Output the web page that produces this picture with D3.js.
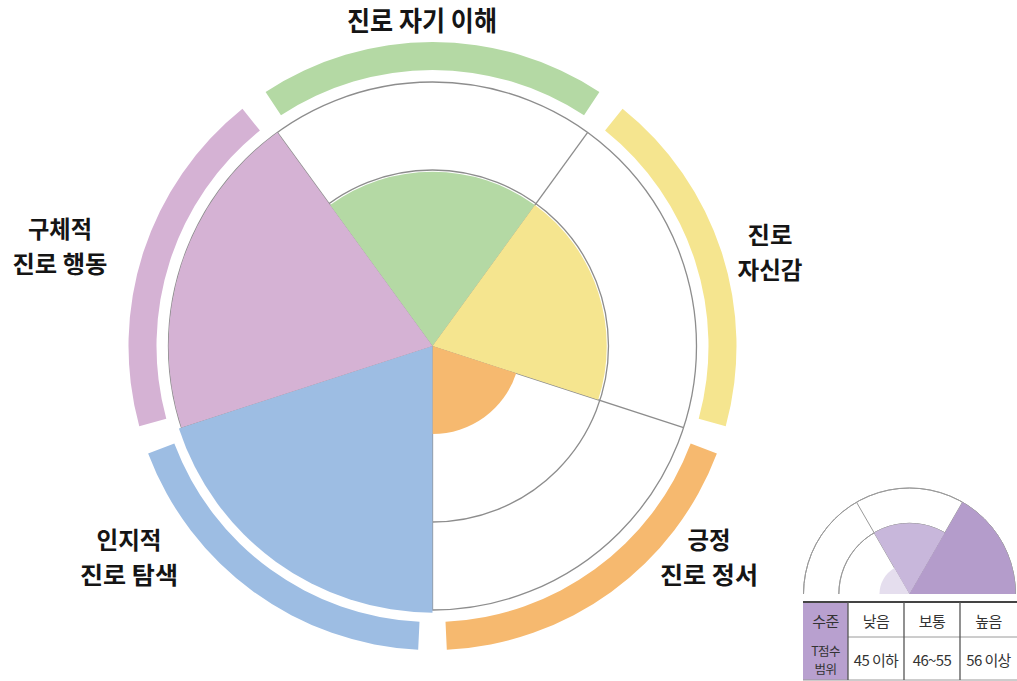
<!DOCTYPE html>
<html>
<head>
<meta charset="utf-8">
<script src="https://cdn.jsdelivr.net/npm/d3@7"></script>
<style>
  body { margin: 0; background: #fff; }
  svg { display: block; }
  text { font-family: "Noto Sans CJK KR", "Noto Sans", sans-serif; }
</style>
</head>
<body>
<svg id="chart"></svg>
<script>
// five areas, clockwise from the top
const categories = ["진로 자기 이해", "진로 자신감", "긍정 진로 정서", "인지적 진로 탐색", "구체적 진로 행동"];
const labelLines = [["진로 자기 이해"], ["진로", "자신감"], ["긍정", "진로 정서"], ["인지적", "진로 탐색"], ["구체적", "진로 행동"]];
const scores = [44.8, 44.8, 35, 55.3, 55.0];   // T-scores
const colors = ["#b4d9a4", "#f5e58f", "#f6b96f", "#9dbde3", "#d5b2d4"];
const guideScores = [45, 55];

// legend
const legendLevels = ["낮음", "보통", "높음"];
const legendRanges = ["45 이하", "46~55", "56 이상"];
const legendScores = [33.5, 45, 55];
const legendColors = ["#e5deee", "#c8b7db", "#b49ccb"];

const width = 1017, height = 681;
const cx = 432.5, cy = 346;
const rad = d => d * Math.PI / 180;

const svg = d3.select("#chart").attr("width", width).attr("height", height);

const r = d3.scaleLinear().domain([25, 55]).range([0, 264]);
const step = 360 / categories.length;
const angle = d3.scaleLinear().domain([0, categories.length]).range([-step / 2, 360 - step / 2]);

const g = svg.append("g").attr("transform", `translate(${cx},${cy})`);

// grid first, sectors cover it
g.selectAll("circle.guide")
  .data(guideScores)
  .join("circle")
  .attr("class", "guide")
  .attr("r", d => r(d))
  .attr("fill", "none")
  .attr("stroke", "#8d8d8d")
  .attr("stroke-width", 1.3);

g.selectAll("line.spoke")
  .data(categories)
  .join("line")
  .attr("class", "spoke")
  .attr("x1", 0).attr("y1", 0)
  .attr("x2", (d, i) => r(55) * Math.sin(rad(angle(i))))
  .attr("y2", (d, i) => -r(55) * Math.cos(rad(angle(i))))
  .attr("stroke", "#8d8d8d")
  .attr("stroke-width", 1.3);

const arc = d3.arc();

g.selectAll("path.sector")
  .data(scores)
  .join("path")
  .attr("class", "sector")
  .attr("d", (d, i) => arc({
    innerRadius: 0,
    outerRadius: r(d),
    startAngle: rad(angle(i)),
    endAngle: rad(angle(i + 1))
  }))
  .attr("fill", (d, i) => colors[i]);

// coloured bands round the outside
const gap = 2.7;
g.selectAll("path.band")
  .data(categories)
  .join("path")
  .attr("class", "band")
  .attr("d", (d, i) => arc({
    innerRadius: 276,
    outerRadius: 304,
    startAngle: rad(angle(i) + gap),
    endAngle: rad(angle(i + 1) - gap)
  }))
  .attr("fill", (d, i) => colors[i]);

// labels, placed by hand like the original
const labelPos = [
  { x: 422, y: [31], w: [150] },
  { x: 770, y: [244, 279], w: [45, 65] },
  { x: 709, y: [549, 584], w: [43, 98] },
  { x: 129, y: [549, 584], w: [65, 98] },
  { x: 60, y: [238, 273], w: [64, 95] }
];

labelLines.forEach((lines, i) => {
  const p = labelPos[i];
  const t = svg.append("text")
    .style("font-size", lines.length > 1 ? "24px" : "27px")
    .style("font-weight", 700)
    .attr("fill", "#151515");
  lines.forEach((line, j) => {
    t.append("tspan")
      .attr("x", p.x - p.w[j] / 2)
      .attr("y", p.y[j])
      .attr("textLength", p.w[j])
      .attr("lengthAdjust", "spacingAndGlyphs")
      .text(line);
  });
});

// ---- legend ----
const lx = 909.5, ly = 594;
const lr = d3.scaleLinear().domain([25, 55]).range([0, 106]);
const lAngle = d3.scaleLinear().domain([0, legendLevels.length]).range([-90, 90]);
const lg = svg.append("g").attr("transform", `translate(${lx},${ly})`);

lg.selectAll("path.guide")
  .data(guideScores)
  .join("path")
  .attr("class", "guide")
  .attr("d", d => arc({ innerRadius: lr(d), outerRadius: lr(d), startAngle: rad(-90), endAngle: rad(90) }))
  .attr("fill", "none")
  .attr("stroke", "#9a9a9a")
  .attr("stroke-width", 1);

lg.selectAll("line.spoke")
  .data(d3.range(1, legendLevels.length))
  .join("line")
  .attr("class", "spoke")
  .attr("x1", 0).attr("y1", 0)
  .attr("x2", d => lr(55) * Math.sin(rad(lAngle(d))))
  .attr("y2", d => -lr(55) * Math.cos(rad(lAngle(d))))
  .attr("stroke", "#9a9a9a")
  .attr("stroke-width", 1);

lg.selectAll("path.sector")
  .data(legendScores)
  .join("path")
  .attr("class", "sector")
  .attr("d", (d, i) => arc({
    innerRadius: 0,
    outerRadius: lr(d),
    startAngle: rad(lAngle(i)),
    endAngle: rad(lAngle(i + 1))
  }))
  .attr("fill", (d, i) => legendColors[i]);

// table under the legend
const tRight = 1017;
const colX = [803, 848, 904, 960, 1017];
const rowY = [602, 637, 680];

svg.append("rect")
  .attr("x", colX[0]).attr("y", rowY[0])
  .attr("width", colX[1] - colX[0]).attr("height", rowY[2] - rowY[0])
  .attr("fill", "#b8a0cf");

svg.append("line")
  .attr("x1", colX[1]).attr("x2", tRight)
  .attr("y1", rowY[1]).attr("y2", rowY[1])
  .attr("stroke", "#9a9a9a").attr("stroke-width", 1);

svg.append("line")
  .attr("x1", colX[0]).attr("x2", tRight)
  .attr("y1", rowY[0]).attr("y2", rowY[0])
  .attr("stroke", "#444").attr("stroke-width", 2);

svg.append("line")
  .attr("x1", colX[0]).attr("x2", tRight)
  .attr("y1", rowY[2]).attr("y2", rowY[2])
  .attr("stroke", "#9a9a9a").attr("stroke-width", 1);

svg.selectAll("line.col")
  .data(colX.slice(1, 4))
  .join("line")
  .attr("class", "col")
  .attr("x1", d => d).attr("x2", d => d)
  .attr("y1", rowY[0]).attr("y2", rowY[2])
  .attr("stroke", "#555").attr("stroke-width", 1.3);

const cell = (x, y, t) => svg.append("text")
  .attr("x", x).attr("y", y)
  .attr("text-anchor", "middle")
  .style("font-size", "15px")
  .style("letter-spacing", "-0.6px")
  .attr("fill", "#333")
  .text(t);

cell((colX[0] + colX[1]) / 2, 627, "수준");
// two-line cell as one text, slightly smaller so the lines stay apart
const tc = svg.append("text")
  .attr("text-anchor", "middle")
  .style("font-size", "12.5px")
  .style("letter-spacing", "-0.6px")
  .attr("fill", "#333");
tc.append("tspan").attr("x", (colX[0] + colX[1]) / 2).attr("y", 656).text("T점수");
tc.append("tspan").attr("x", (colX[0] + colX[1]) / 2).attr("y", 674).text("범위");
legendLevels.forEach((t, i) => cell((colX[i + 1] + colX[i + 2]) / 2, 627, t));
legendRanges.forEach((t, i) => cell((colX[i + 1] + colX[i + 2]) / 2, 666, t));
</script>
</body>
</html>
